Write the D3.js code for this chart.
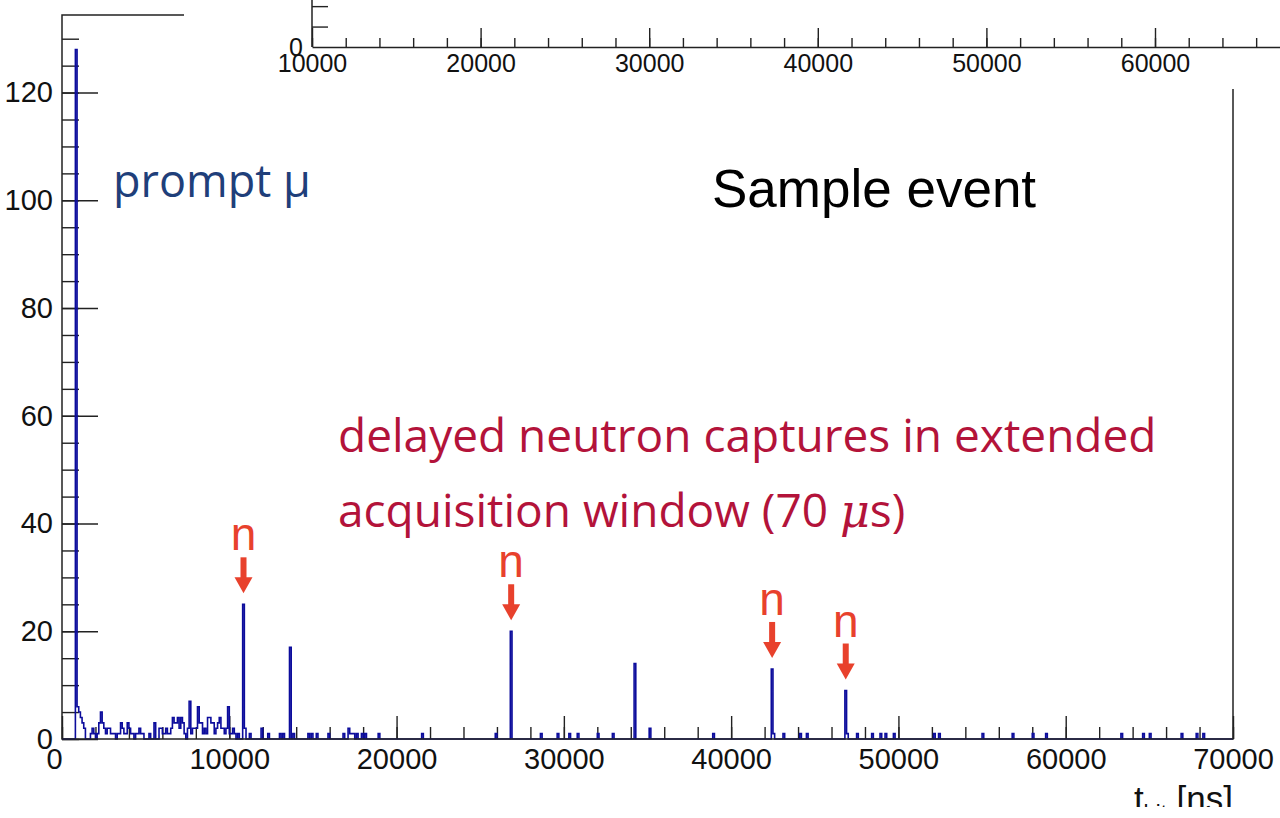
<!DOCTYPE html>
<html>
<head>
<meta charset="utf-8">
<script src="https://cdn.jsdelivr.net/npm/d3@7"></script>
<style>
  body { margin: 0; background: white; }
  svg { display: block; }
</style>
</head>
<body>
<svg id="chart"></svg>
<script>
// bin start time [ns] (100 ns bins) and number of hits, only non-empty bins
const binStart = [
  800, 900, 1000, 1100, 1200, 1300,
  1700, 1800, 1900, 2100, 2200, 2300, 2400, 2500, 2600, 2700, 2800, 2900, 3000, 3100,
  3300, 3400, 3500, 3600, 3700, 3800, 3900, 4000, 4100, 4200, 4400, 4500, 4600, 4700, 4800,
  5200, 5500, 5800, 5900, 6000, 6100, 6200, 6300, 6400, 6500, 6600, 6700, 6800, 6900,
  7000, 7100, 7200, 7300, 7500, 7600, 7700, 7800, 7900, 8000, 8100, 8200, 8300, 8400,
  8500, 8600, 8700, 8800, 8900, 9000, 9100, 9200, 9300, 9400, 9500, 9600, 9700, 9800,
  9900, 10000, 10100, 10200, 10300, 10500, 10800, 10900, 11200, 11900, 12300, 13000,
  13200, 13600, 13800, 14700, 14900, 15200, 15900, 16800, 17100, 17200, 17300, 17400,
  17600, 17900, 18100, 18900, 21500, 25900, 26800, 28600, 29600, 30300, 30800, 32000,
  32900, 34200, 35100, 38900, 42400, 42500, 43100, 44100, 44500, 46800, 46900, 47500,
  48400, 48900, 49200, 49700, 52100, 52400, 55000, 56800, 58000, 58800, 63300, 64600,
  65000, 66900, 67800, 68200
];
const binCount = [
  128, 6, 5, 4, 3, 2,
  1, 2, 1, 1, 3, 5, 3, 2, 1, 2, 2, 1, 1, 1,
  1, 1, 3, 2, 1, 1, 3, 2, 1, 1, 1, 1, 2, 1, 1,
  1, 3, 2, 2, 1, 1, 2, 1, 1, 2, 4, 3, 3, 4,
  2, 4, 3, 1, 2, 7, 1, 2, 2, 2, 6, 3, 3, 1,
  2, 1, 4, 4, 3, 3, 1, 2, 3, 4, 2, 2, 1, 2,
  6, 1, 1, 2, 1, 1, 25, 2, 1, 2, 1, 1,
  1, 17, 1, 1, 1, 1, 1, 1, 2, 1, 1, 1,
  1, 1, 1, 1, 1, 1, 20, 1, 1, 1, 1, 1,
  1, 14, 2, 1, 13, 1, 1, 1, 1, 9, 1, 1,
  1, 1, 1, 1, 1, 1, 1, 1, 1, 1, 1, 1,
  1, 1, 1, 1
];
const binWidth = 100;
const neutronBins = [10800, 26800, 42400, 46800];

const xMainTicks = [0, 10000, 20000, 30000, 40000, 50000, 60000, 70000];
const yMainTicks = [0, 20, 40, 60, 80, 100, 120];
const xInsetTicks = [10000, 20000, 30000, 40000, 50000, 60000];

const width = 1280, height = 818;
const svg = d3.select("#chart")
    .attr("width", width)
    .attr("height", height)
    .style("font-family", "'Liberation Sans', Arial, sans-serif")
    ;

const x = d3.scaleLinear().domain([0, 70000]).range([62, 1233]);
const y = d3.scaleLinear().domain([0, 134.4]).range([739, 15]);

// full histogram with empty bins
const counts = new Map(binStart.map((t, i) => [t, binCount[i]]));
const bins = d3.range(0, 70000 + binWidth, binWidth).map(t => ({ t: t, v: counts.get(t) || 0 }));

// x axis (ticks point inwards)
const xMinor = svg.append("g")
    .attr("transform", "translate(0,739)")
    .call(d3.axisBottom(x).tickValues(d3.range(0, 70001, 2000)).tickSize(-12).tickFormat(""));
xMinor.select(".domain").remove();

const xAxis = svg.append("g")
    .attr("transform", "translate(0,739)")
    .call(d3.axisBottom(x).tickValues(xMainTicks).tickSize(-23).tickPadding(9).tickFormat(d3.format("d")));
xAxis.select(".domain").remove();
xAxis.selectAll("text").style("font-size", "29px").attr("fill", "#111");
xAxis.selectAll(".tick text").filter(d => d === 0).attr("dx", -8);

const yMinor = svg.append("g")
    .attr("transform", "translate(62,0)")
    .call(d3.axisLeft(y).tickValues(d3.range(0, 134, 5)).tickSize(-17).tickFormat(""));
yMinor.select(".domain").remove();

const yAxis = svg.append("g")
    .attr("transform", "translate(62,0)")
    .call(d3.axisLeft(y).tickValues(yMainTicks).tickSize(-36).tickPadding(9));
yAxis.select(".domain").remove();
yAxis.selectAll("text").style("font-size", "29px").attr("fill", "#111");

// histogram outline
const line = d3.line()
    .x(d => x(d.t))
    .y(d => y(d.v))
    .curve(d3.curveStepAfter);

svg.append("path")
    .datum(bins)
    .attr("d", line)
    .attr("fill", "none")
    .attr("stroke", "#0c0c9c")
    .attr("stroke-width", 1.6);

// frame
svg.append("rect")
    .attr("x", x(0))
    .attr("y", y(134.4))
    .attr("width", x(70000) - x(0))
    .attr("height", y(0) - y(134.4))
    .attr("fill", "none")
    .attr("stroke", "#222")
    .attr("stroke-width", 1.5);

// second plot pasted on top, only its bottom axis is visible
svg.append("rect")
    .attr("x", 184)
    .attr("y", 0)
    .attr("width", width - 184)
    .attr("height", 89)
    .attr("fill", "white");

const xi = d3.scaleLinear().domain([10000, 67414]).range([312, 1280]);
const yi = d3.scaleLinear().domain([0, 2.3]).range([47, 0]);

const xiMinor = svg.append("g")
    .attr("transform", "translate(0,47)")
    .call(d3.axisBottom(xi).tickValues(d3.range(10000, 67414, 2000)).tickSize(-9).tickFormat(""));
xiMinor.select(".domain").remove();

svg.append("g")
    .attr("transform", "translate(0,47)")
    .call(d3.axisBottom(xi).tickValues(xInsetTicks).tickSize(-19).tickSizeOuter(0).tickPadding(7).tickFormat(d3.format("d")))
    .selectAll("text").style("font-size", "25px").attr("fill", "#111");

const yiAxis = svg.append("g")
    .attr("transform", "translate(312,0)")
    .call(d3.axisLeft(yi).tickValues([0, 1, 2]).tickSize(-16).tickSizeOuter(0).tickPadding(9));
yiAxis.selectAll("text").style("font-size", "25px").attr("fill", "#111").text(d => d === 0 ? "0" : "");
yiAxis.selectAll(".tick").filter(d => d === 0).select("line").remove();
yiAxis.select(".domain").attr("d", "M0,0V47");

svg.selectAll(".domain").attr("stroke", "#222").attr("stroke-width", 1.5);
svg.selectAll(".tick line").attr("stroke", "#222").attr("stroke-width", 1.4);

// x axis title, bottom cut off in the original
svg.append("text")
    .attr("x", x(70000))
    .attr("y", 811)
    .attr("text-anchor", "end")
    .style("font-size", "35px")
    .attr("fill", "#111")
    .html('t<tspan dy="9" font-size="22px">hit</tspan><tspan dy="-9"> [ns]</tspan>');

svg.append("rect")
    .attr("x", 0)
    .attr("y", 807)
    .attr("width", width)
    .attr("height", height - 807)
    .attr("fill", "white");

// annotations
svg.append("text")
    .attr("x", 113)
    .attr("y", 197)
    .style("font-family", "'Open Sans', sans-serif")
    .style("font-size", "45px")
    .attr("fill", "#1f3f7a")
    .text("prompt \u03bc");

svg.append("text")
    .attr("x", 712)
    .attr("y", 207)
    .style("font-size", "53px")
    .attr("fill", "#000")
    .text("Sample event");

const redText = svg.append("text")
    .style("font-family", "'Open Sans', sans-serif")
    .style("font-size", "46px")
    .attr("fill", "#b3133a");

redText.append("tspan")
    .attr("x", 338)
    .attr("y", 452)
    .text("delayed neutron captures in extended");

redText.append("tspan")
    .attr("x", 338)
    .attr("y", 527)
    .text("acquisition window (70 ");
redText.append("tspan")
    .style("font-family", "'DejaVu Serif', serif")
    .style("font-style", "italic")
    .text("\u03bc");
redText.append("tspan")
    .text("s)");

const marker = svg.selectAll(".nmark")
    .data(neutronBins)
    .enter()
    .append("g")
    .attr("class", "nmark")
    .attr("transform", t => "translate(" + x(t + binWidth / 2) + "," + y(counts.get(t)) + ")");

marker.append("text")
    .attr("y", -54)
    .attr("text-anchor", "middle")
    .style("font-size", "46px")
    .attr("fill", "#e8412c")
    .text("n");

marker.append("rect")
    .attr("x", -3)
    .attr("y", -47)
    .attr("width", 6)
    .attr("height", 26)
    .attr("fill", "#e8412c");

marker.append("path")
    .attr("d", "M-9,-27L9,-27L0,-11Z")
    .attr("fill", "#e8412c");
</script>
</body>
</html>
